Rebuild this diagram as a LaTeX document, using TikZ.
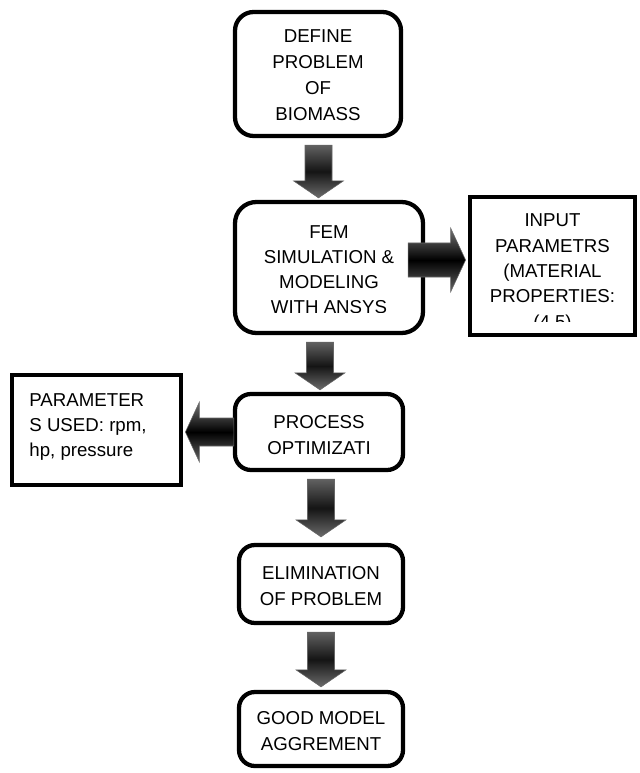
\documentclass[tikz,border=0pt]{standalone}
\usepackage{fontspec}
\setmainfont{Liberation Sans}
\usetikzlibrary{calc}
\tikzset{
  rbox/.style={draw=black, line width=3.2pt, rounded corners=12pt, fill=white, inner sep=0pt},
  sbox/.style={draw=black, line width=3.6pt, fill=white, inner sep=0pt},
  btext/.style={align=center, font=\fontsize{14}{19.5}\selectfont, inner sep=0pt},
  arrowv/.style={draw=black!60, line width=0.4pt, top color=black!62, bottom color=black!58, middle color=black!92},
  arrowh/.style={draw=black!60, line width=0.4pt, top color=black!55, bottom color=black!60, middle color=black}
}
\begin{document}
\begin{tikzpicture}[x=0.75pt,y=-0.75pt]
\useasboundingbox (0,0) rectangle (639,773);
% boxes
\node[rbox, rounded corners=14pt, minimum width=124.5pt, minimum height=93pt] (def) at (318,74) {};
\node[rbox, rounded corners=16pt, minimum width=141pt, minimum height=98.25pt] (fem) at (329,267.5) {};
\node[sbox, minimum width=123.75pt, minimum height=103.5pt] (inp) at (552.5,266) {};
\node[rbox, minimum width=126pt, minimum height=57pt] (proc) at (319,432) {};
\node[sbox, minimum width=126.75pt, minimum height=82.5pt] (par) at (96.5,430) {};
\node[rbox, minimum width=123pt, minimum height=58.5pt] (elim) at (321,584) {};
\node[rbox, minimum width=123pt, minimum height=55.5pt] (good) at (321,729) {};
% texts
\node[btext] (tdef) at (318,75) {DEFINE\\PROBLEM\\OF\\BIOMASS};
\begin{scope}
  \clip (236,204) rectangle (422,312);
  \node[btext, font=\fontsize{14}{18.75}\selectfont] (tfem) at (329,270) {FEM\\SIMULATION \&\\MODELING\\WITH ANSYS};
\end{scope}
\begin{scope}
  \clip (472,199) rectangle (633,321.5);
  \node[btext, font=\fontsize{14}{19}\selectfont] (tinp) at (552.5,273) {INPUT\\PARAMETRS\\(MATERIAL\\PROPERTIES:\\(4.5)};
\end{scope}
\node[btext] (tproc) at (319,435) {PROCESS\\OPTIMIZATI};
\node[btext, align=left, font=\fontsize{14}{19}\selectfont] (tpar) at (88,427) {PARAMETER\\S USED: rpm,\\hp, pressure};
\node[btext] (telim) at (321,586) {ELIMINATION\\OF PROBLEM};
\node[btext] (tgood) at (321,731) {GOOD MODEL\\AGGREMENT};
% arrow axes
\coordinate (a1) at (318.5,0);
\coordinate (a2) at (320,0);
\coordinate (a3) at (321,0);
\coordinate (a4) at (321,0);
% vertical arrows
\newcommand\vdownarrow[4]{%
  \path[arrowv] ($(#1 |- #2.south)+(-13.5,7)$) -- ($(#1 |- #3.north)+(-13.5,-#4-17)$)
    -- ($(#1 |- #3.north)+(-25,-#4-17)$) -- ($(#1 |- #3.north)+(0,-#4)$)
    -- ($(#1 |- #3.north)+(25,-#4-17)$) -- ($(#1 |- #3.north)+(13.5,-#4-17)$)
    -- ($(#1 |- #2.south)+(13.5,7)$) -- cycle;}
\vdownarrow{a1}{def}{fem}{2}
\vdownarrow{a2}{fem}{proc}{2}
\vdownarrow{a3}{proc}{elim}{6}
\vdownarrow{a4}{elim}{good}{3}
% right arrow fem -> inp
\coordinate (r0) at (0,260);
\path[arrowh] ($(r0 -| fem.east)+(-17,-17)$) -- ($(r0 -| inp.west)+(-17,-17)$)
  -- ($(r0 -| inp.west)+(-17,-32)$) -- ($(r0 -| inp.west)+(-2,0)$)
  -- ($(r0 -| inp.west)+(-17,32)$) -- ($(r0 -| inp.west)+(-17,17)$)
  -- ($(r0 -| fem.east)+(-17,17)$) -- cycle;
% left arrow proc -> par
\coordinate (l0) at (0,432);
\path[arrowh] ($(l0 -| proc.west)+(1,-14)$) -- ($(l0 -| par.east)+(16,-14)$)
  -- ($(l0 -| par.east)+(16,-30)$) -- ($(l0 -| par.east)+(2,0)$)
  -- ($(l0 -| par.east)+(16,30)$) -- ($(l0 -| par.east)+(16,14)$)
  -- ($(l0 -| proc.west)+(1,14)$) -- cycle;
\end{tikzpicture}
\end{document}
